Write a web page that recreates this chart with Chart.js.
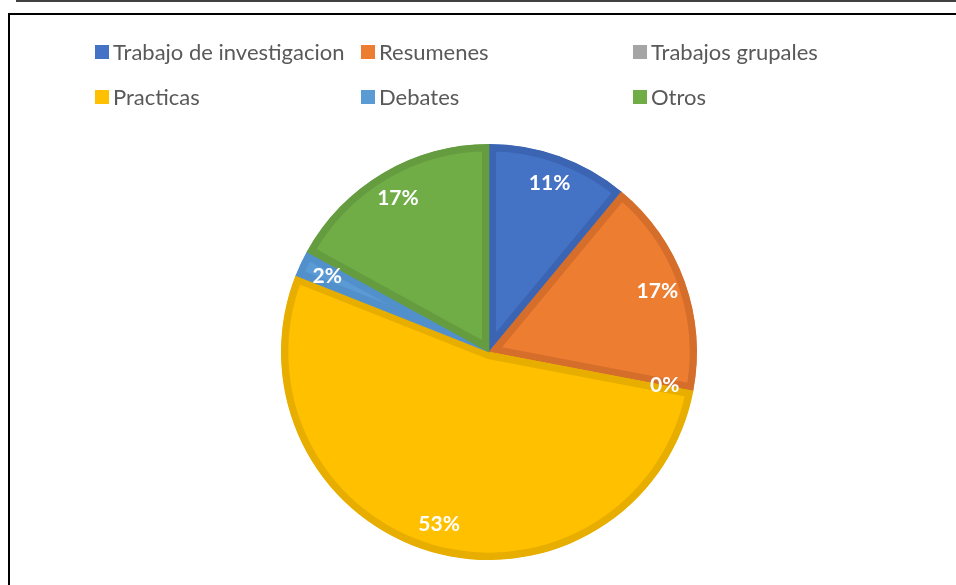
<!DOCTYPE html>
<html>
<head>
<meta charset="utf-8">
<script src="https://cdn.jsdelivr.net/npm/chart.js@4/dist/chart.umd.min.js"></script>
<style>
  html, body { margin: 0; padding: 0; background: #fff; }
  #wrap { position: relative; width: 956px; height: 585px; overflow: hidden; }
  #topline { position: absolute; left: 16px; top: 0; width: 940px; height: 2px; background: #404040; }
  #frame { position: absolute; left: 8px; top: 13px; width: 1000px; height: 700px; border: 2px solid #000; box-sizing: border-box; }
  #chart { position: absolute; left: 0; top: 0; }
</style>
</head>
<body>
<div id="wrap">
  <div id="topline"></div>
  <div id="frame"></div>
  <canvas id="chart" width="956" height="585"></canvas>
</div>
<script>
const labels = ['Trabajo de investigacion', 'Resumenes', 'Trabajos grupales', 'Practicas', 'Debates', 'Otros'];
const values = [11, 17, 0, 53, 2, 17];
const fillColors = ['#4472C4', '#ED7D31', '#A5A5A5', '#FFC000', '#5B9BD5', '#70AD47'];
const lineColors = ['#3B65B2', '#D66E2B', '#959595', '#E7AE00', '#5190CA', '#649C3F'];

const ctx = document.getElementById('chart');

// legend drawn in a 3 column grid like the office chart
const gridLegend = {
  id: 'gridLegend',
  afterDraw(chart) {
    const c = chart.ctx;
    const cols = [95, 361, 633];
    const rows = [52, 97];
    c.save();
    c.font = '22px Lato';
    c.textBaseline = 'middle';
    labels.forEach((lab, i) => {
      const x = cols[i % 3];
      const y = rows[Math.floor(i / 3)];
      c.fillStyle = fillColors[i];
      c.fillRect(x, y - 7, 14, 14);
      c.fillStyle = '#595959';
      c.fillText(lab, x + 18, y + 1);
    });
    c.restore();
  }
};

const pctLabels = {
  id: 'pctLabels',
  afterDatasetsDraw(chart) {
    const c = chart.ctx;
    const meta = chart.getDatasetMeta(0);
    c.save();
    c.font = 'bold 21px Lato';
    c.fillStyle = '#fff';
    c.textAlign = 'center';
    c.textBaseline = 'middle';
    meta.data.forEach((arc, i) => {
      const p = arc.getProps(['x', 'y', 'startAngle', 'endAngle', 'outerRadius']);
      const mid = (p.startAngle + p.endAngle) / 2;
      const r = p.outerRadius * 0.86;
      c.fillText(values[i] + '%', p.x + Math.cos(mid) * r, p.y + Math.sin(mid) * r);
    });
    c.restore();
  }
};

new Chart(ctx, {
  type: 'pie',
  data: {
    labels: labels,
    datasets: [{
      data: values,
      backgroundColor: fillColors,
      borderColor: lineColors,
      borderWidth: 7,
      borderAlign: 'inner'
    }]
  },
  options: {
    responsive: false,
    animation: false,
    layout: { padding: { left: 281, top: 144, right: 259, bottom: 25 } },
    plugins: {
      legend: { display: false },
      tooltip: { enabled: false }
    }
  },
  plugins: [gridLegend, pctLabels]
});
</script>
</body>
</html>
